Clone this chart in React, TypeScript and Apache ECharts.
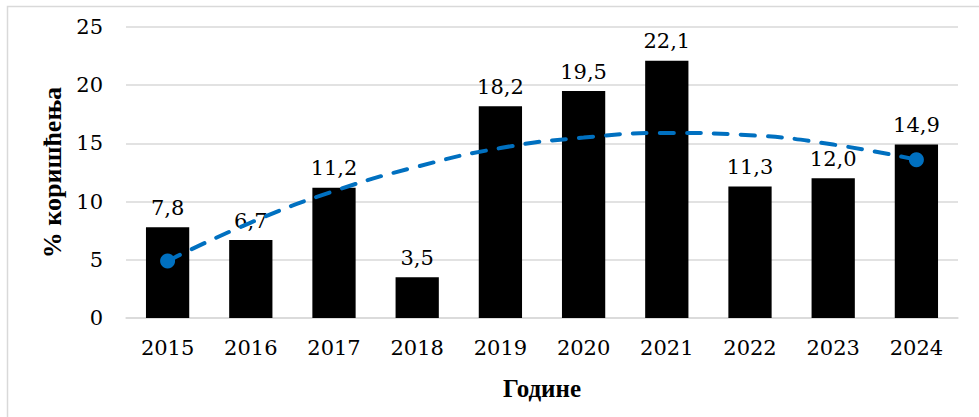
import React, { useEffect, useRef } from "react";
import * as echarts from "echarts";

const years = ["2015", "2016", "2017", "2018", "2019", "2020", "2021", "2022", "2023", "2024"];
const usage = [7.8, 6.7, 11.2, 3.5, 18.2, 19.5, 22.1, 11.3, 12.0, 14.9];
const trend = [4.9, 8.2, 10.9, 13.0, 14.6, 15.5, 15.9, 15.7, 14.9, 13.6];
const yTitle = "% коришћења";
const xTitle = "Године";

export default function App() {
  const ref = useRef<HTMLDivElement>(null);
  useEffect(() => {
    const chart = echarts.init(ref.current!, null, { renderer: "svg" });
    const last = trend.length - 1;
    chart.setOption({
      animation: false,
      backgroundColor: "#ffffff",
      graphic: [
        {
          type: "rect",
          shape: { x: 7.5, y: 6.5, width: 1100, height: 600 },
          style: { fill: "none", stroke: "#d9d9d9", lineWidth: 1.5 },
          silent: true,
          z: -10,
        },
      ],
      grid: { left: 126, right: 21, top: 27, bottom: 99 },
      xAxis: {
        type: "category",
        data: years,
        axisLine: { show: true, lineStyle: { color: "#d9d9d9", width: 1.5 } },
        axisTick: { show: false },
        axisLabel: {
          color: "#000",
          fontFamily: "DejaVu Serif",
          fontSize: 21,
          margin: 19,
        },
        name: xTitle,
        nameLocation: "middle",
        nameGap: 58,
        nameTextStyle: {
          color: "#000",
          fontFamily: "Liberation Serif",
          fontWeight: "bold",
          fontSize: 25,
        },
      },
      yAxis: {
        type: "value",
        min: 0,
        max: 25,
        interval: 5,
        axisLine: { show: false },
        axisTick: { show: false },
        splitLine: { lineStyle: { color: "#d9d9d9", width: 1.5 } },
        axisLabel: {
          color: "#000",
          fontFamily: "DejaVu Serif",
          fontSize: 21,
          margin: 23,
        },
        name: yTitle,
        nameLocation: "middle",
        nameGap: 57,
        nameTextStyle: {
          color: "#000",
          fontFamily: "Liberation Serif",
          fontWeight: "bold",
          fontSize: 26,
        },
      },
      series: [
        {
          type: "bar",
          data: usage,
          barCategoryGap: "48%",
          itemStyle: { color: "#000000" },
          label: {
            show: true,
            position: "top",
            distance: 9,
            color: "#000",
            fontFamily: "DejaVu Serif",
            fontSize: 21,
            formatter: (p: any) => Number(p.value).toFixed(1).replace(".", ","),
          },
          z: 2,
        },
        {
          type: "line",
          smooth: true,
          data: trend.map((v, i) => ({
            value: v,
            symbol: i === 0 || i === last ? "circle" : "none",
            symbolSize: 15,
          })),
          showSymbol: true,
          lineStyle: { color: "#0070c0", width: 4, type: [14, 13], cap: "round" },
          itemStyle: { color: "#0070c0" },
          z: 3,
        },
      ],
    });
    return () => chart.dispose();
  }, []);
  return (
    <div
      ref={ref}
      style={{ position: "fixed", left: 0, top: 0, width: 979, height: 417 }}
    />
  );
}
